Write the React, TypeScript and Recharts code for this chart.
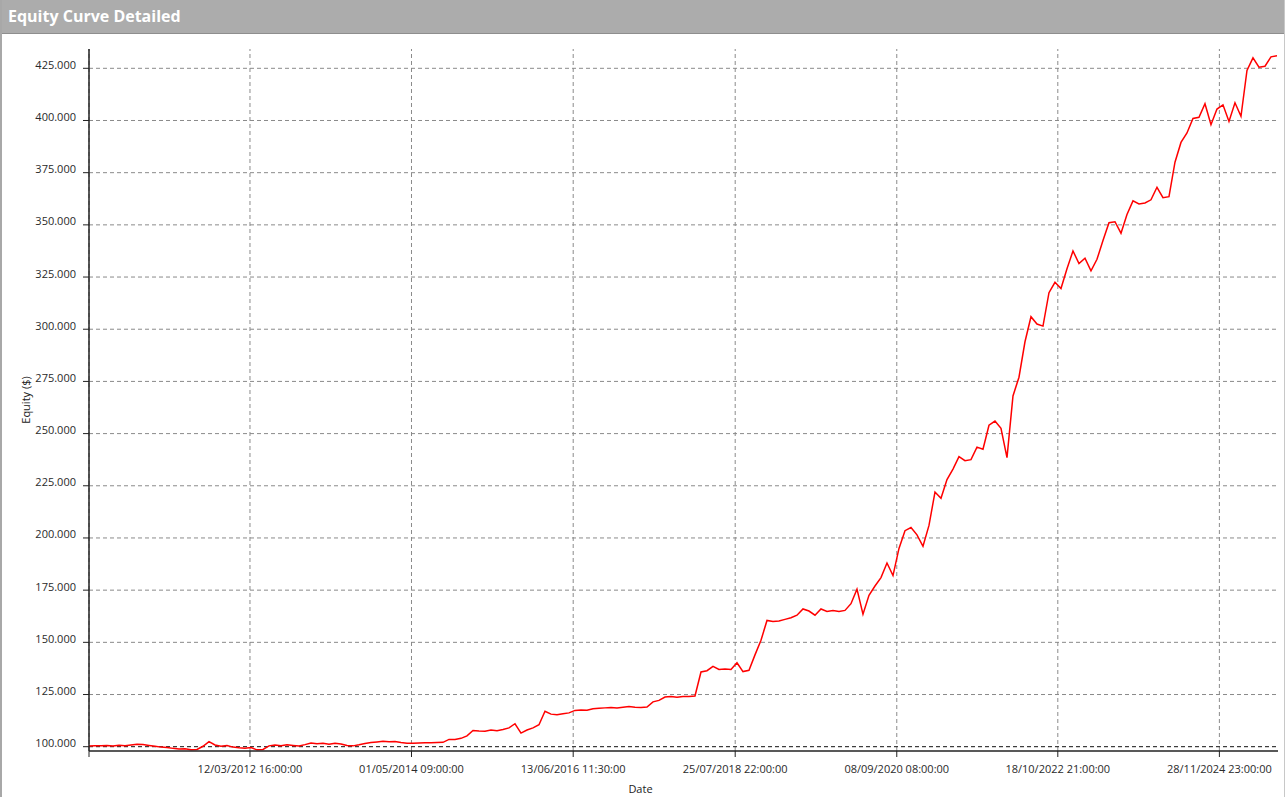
import React from 'react';
import { LineChart, Line, XAxis, YAxis, ReferenceLine, Label } from 'recharts';

// equity in thousands of $, one reading every few pixels along the curve
const equity = [
  100.3, 100.5, 100.4, 100.6, 100.3, 100.7, 100.4, 100.8, 101.2, 101.0,
  100.6, 100.2, 99.8, 99.6, 99.2, 98.9, 99.0, 98.5, 98.7, 100.2,
  102.4, 100.8, 100.2, 100.6, 99.8, 99.5, 99.3, 99.6, 98.5, 98.7,
  100.4, 100.8, 100.5, 100.9, 100.6, 100.3, 101.0, 101.8, 101.4, 101.6,
  101.2, 101.7, 101.3, 100.6, 100.4, 100.9, 101.5, 102.0, 102.3, 102.6,
  102.4, 102.5, 102.0, 101.7, 101.6, 101.8, 101.9, 101.9, 102.0, 102.1,
  103.5, 103.4, 104.0, 105.2, 107.8, 107.5, 107.4, 108.0, 107.6, 108.2,
  109.0, 111.0, 106.5, 108.0, 109.0, 110.5, 117.0, 115.6, 115.3, 115.8,
  116.2, 117.4, 117.6, 117.5, 118.2, 118.4, 118.6, 118.8, 118.6, 118.9,
  119.2, 118.9, 118.8, 119.0, 121.5, 122.2, 123.8, 124.0, 123.7, 124.0,
  124.1, 124.3, 135.8, 136.4, 138.5, 137.0, 137.2, 137.0, 140.2, 136.0,
  136.6, 144.0, 151.0, 160.5, 160.0, 160.2, 161.0, 161.8, 163.0, 166.0,
  165.0, 163.0, 166.0, 164.8, 165.2, 164.8, 165.3, 168.5, 175.5, 163.5,
  172.5, 177.0, 181.0, 188.0, 182.0, 195.0, 203.5, 205.0, 201.5, 196.0,
  206.0, 222.0, 219.0, 228.0, 233.0, 239.0, 237.0, 237.5, 243.5, 242.5,
  254.0, 256.0, 252.5, 238.5, 268.0, 277.0, 294.0, 306.0, 302.5, 301.5,
  317.5, 322.5, 319.5, 329.0, 337.5, 331.5, 334.0, 328.0, 333.5, 342.5,
  351.0, 351.5, 346.0, 355.0, 361.5, 360.0, 360.5, 362.0, 368.0, 363.0,
  363.5, 380.0, 389.5, 394.0, 401.0, 401.5, 408.0, 398.0, 405.5, 407.5,
  399.5, 408.5, 402.0, 424.0, 430.0, 425.5, 426.0, 430.5, 431.0,
];

const xTickPos = [0, 26.83, 53.75, 80.7, 107.7, 134.63, 161.47, 188.4];
const xTickLabels = [
  '',
  '12/03/2012 16:00:00',
  '01/05/2014 09:00:00',
  '13/06/2016 11:30:00',
  '25/07/2018 22:00:00',
  '08/09/2020 08:00:00',
  '18/10/2022 21:00:00',
  '28/11/2024 23:00:00',
];
const yTicks = [100, 125, 150, 175, 200, 225, 250, 275, 300, 325, 350, 375, 400, 425];
const startBalance = 100;

const rows = equity.map((v, i) => ({ i, equity: v }));
const font = '"Open Sans", sans-serif';

const YTick = ({ x, y, payload }: any) => (
  <text x={x} y={y - 4} textAnchor="end" dominantBaseline="central" fontSize={11} fontFamily={font} fill="#2a2a2a">
    {payload.value}.000
  </text>
);

const XTick = ({ x, y, payload }: any) => {
  const idx = xTickPos.indexOf(payload.value);
  return (
    <text x={x} y={y + 8} textAnchor="middle" fontSize={11} fontFamily={font} fill="#2a2a2a">
      {idx >= 0 ? xTickLabels[idx] : ''}
    </text>
  );
};

export default function App() {
  return (
    <div style={{ position: 'absolute', left: 0, top: 0, width: 1285, height: 797, background: '#fff', fontFamily: font, overflow: 'hidden' }}>
      <div style={{ position: 'absolute', left: 0, top: 0, width: 1285, height: 33, background: '#acacac', borderBottom: '1px solid #8e8e8e' }}>
        <div style={{ color: '#fff', fontWeight: 700, fontSize: 16, lineHeight: '33px', paddingLeft: 8 }}>Equity Curve Detailed</div>
      </div>
      <div style={{ position: 'absolute', left: 0, top: 0, width: 2, height: 797, background: '#a8a8a8' }} />
      <div style={{ position: 'absolute', right: 0, top: 0, width: 1, height: 797, background: '#c8c8c8' }} />
      <div style={{ position: 'absolute', left: 0, top: 35 }}>
        <LineChart width={1285} height={762} data={rows} margin={{ top: 14, right: 7, left: 0, bottom: 0 }}>
          <XAxis
            type="number"
            dataKey="i"
            domain={[0, 198.17]}
            ticks={xTickPos}
            height={46}
            tickSize={6}
            tickMargin={8}
            tick={<XTick />}
            axisLine={{ stroke: '#222', strokeWidth: 1.5 }}
            tickLine={{ stroke: '#222' }}
            interval={0}
          >
            <Label value="Date" position="center" dx={-43} dy={15} fontSize={11} fontFamily={font} fill="#222" />
          </XAxis>
          <YAxis
            type="number"
            domain={[97.94, 434.25]}
            ticks={yTicks}
            width={89}
            tickSize={6}
            tickMargin={7}
            tick={<YTick />}
            axisLine={{ stroke: '#222', strokeWidth: 1.5 }}
            tickLine={{ stroke: '#222' }}
            interval={0}
          >
            <Label value="Equity ($)" angle={-90} position="center" dx={-18} fontSize={11} fontFamily={font} fill="#222" />
          </YAxis>
          {xTickPos.map((p) => (
            <ReferenceLine key={'vx' + p} x={p} stroke="#8a8a8a" strokeDasharray="4 3" />
          ))}
          {yTicks.filter((t) => t !== startBalance).map((t) => (
            <ReferenceLine key={'hy' + t} y={t} stroke="#8a8a8a" strokeDasharray="4 3" />
          ))}
          <ReferenceLine y={startBalance} stroke="#111" strokeDasharray="4 3" />
          <Line type="linear" dataKey="equity" stroke="#ff0000" strokeWidth={1.5} dot={false} isAnimationActive={false} />
        </LineChart>
      </div>
    </div>
  );
}
